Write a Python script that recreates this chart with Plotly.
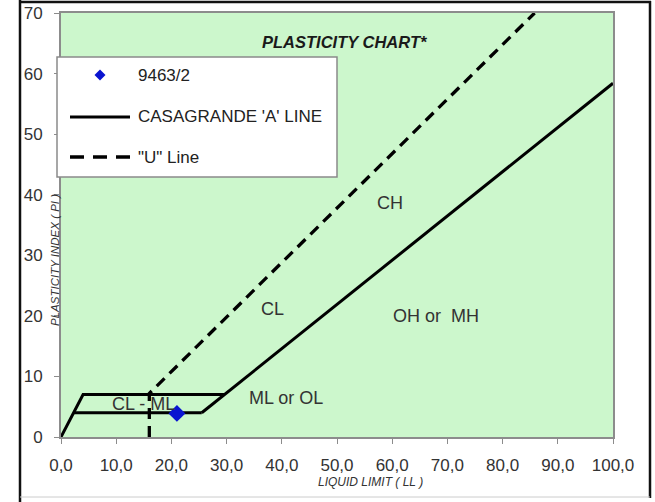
import plotly.graph_objects as go

# ---- data ----
x_ticks = [0, 10, 20, 30, 40, 50, 60, 70, 80, 90, 100]
x_tick_labels = ["0,0", "10,0", "20,0", "30,0", "40,0", "50,0", "60,0", "70,0", "80,0", "90,0", "100,0"]
y_ticks = [0, 10, 20, 30, 40, 50, 60, 70]
y_tick_labels = ["0", "10", "20", "30", "40", "50", "60", "70"]

sample_ll = [21.0]
sample_pi = [3.9]

clml_upper_ll = [0, 4.0, 29.6]
clml_upper_pi = [0, 7.0, 7.0]
clml_lower_ll = [2.3, 25.5]
clml_lower_pi = [4.0, 4.0]
a_line_ll = [25.5, 100]
a_line_pi = [4.0, 58.4]
u_line_ll = [16, 16, 85.8]
u_line_pi = [0, 7.2, 70]

zone_names = ["CH", "CL", "OH or\u00a0\u00a0MH", "ML or OL", "CL - ML"]
zone_ll = [59.6, 38.4, 67.9, 40.8, 14.9]
zone_pi = [38.6, 21.1, 20.0, 6.4, 5.4]

FONT = "Liberation Sans, Arial, sans-serif"
W, H = 655, 502
L, R, T, B = 61, 42, 13, 65
PW, PH = W - L - R, H - T - B


def px(xp):
    return (xp - L) / PW


def py(yp):
    return (H - B - yp) / PH


fig = go.Figure()
line_style = dict(color="black", width=3)
fig.add_trace(go.Scatter(x=clml_upper_ll, y=clml_upper_pi, mode="lines", line=line_style,
                         showlegend=False, cliponaxis=False))
fig.add_trace(go.Scatter(x=clml_lower_ll, y=clml_lower_pi, mode="lines", line=line_style,
                         showlegend=False))
fig.add_trace(go.Scatter(x=a_line_ll, y=a_line_pi, mode="lines", line=line_style,
                         name="CASAGRANDE 'A' LINE", showlegend=False))
fig.add_trace(go.Scatter(x=u_line_ll, y=u_line_pi, mode="lines",
                         line=dict(color="black", width=3.3, dash="11px,7px"),
                         name='"U" Line', showlegend=False))
fig.add_trace(go.Scatter(x=sample_ll, y=sample_pi, mode="markers",
                         marker=dict(symbol="diamond", size=13, color="#0a14d0"),
                         name="9463/2", showlegend=False))

annotations = []
for name, xv, yv in zip(zone_names, zone_ll, zone_pi):
    annotations.append(dict(x=xv, y=yv, xref="x", yref="y", text=name, showarrow=False,
                            xanchor="center", yanchor="middle",
                            font=dict(family=FONT, size=18, color="#333333")))

annotations.append(dict(x=px(345), y=py(42), xref="paper", yref="paper",
                        xanchor="center", yanchor="middle",
                        text="<b><i>PLASTICITY CHART*</i></b>", showarrow=False,
                        font=dict(family=FONT, size=16.5, color="#1a1a1a")))
annotations.append(dict(x=px(370), y=py(482), xref="paper", yref="paper",
                        xanchor="center", yanchor="middle",
                        text="<i>LIQUID LIMIT ( LL )</i>", showarrow=False,
                        font=dict(family=FONT, size=12, color="#333333")))
annotations.append(dict(x=px(55), y=py(260), xref="paper", yref="paper", textangle=-90,
                        xanchor="center", yanchor="middle",
                        text="<i>PLASTICITY INDEX ( PI )</i>", showarrow=False,
                        font=dict(family=FONT, size=11.5, color="#333333")))

# custom legend
legend_labels = ["9463/2", "CASAGRANDE 'A' LINE", '"U" Line']
legend_rows = [75, 117, 157]
for lab, yr in zip(legend_labels, legend_rows):
    annotations.append(dict(x=px(136), y=py(yr), xref="paper", yref="paper", text=lab,
                            showarrow=False, xanchor="left", yanchor="middle",
                            font=dict(family=FONT, size=17, color="#222222")))

shapes = [
    dict(type="rect", xref="paper", yref="paper", x0=px(57), x1=px(337), y0=py(177), y1=py(57),
         fillcolor="white", line=dict(color="#8a8a8a", width=1.5), layer="above"),
    dict(type="line", xref="paper", yref="paper", x0=px(70), x1=px(130), y0=py(117), y1=py(117),
         line=dict(color="black", width=3), layer="above"),
    dict(type="line", xref="paper", yref="paper", x0=px(70), x1=px(130), y0=py(157), y1=py(157),
         line=dict(color="black", width=3.3, dash="14px,9px"), layer="above"),
]
cx, cy, d = px(100), py(75), 5.5
shapes.append(dict(type="path", xref="paper", yref="paper",
                   path=f"M {cx},{cy + d / PH} L {cx + d / PW},{cy} L {cx},{cy - d / PH} L {cx - d / PW},{cy} Z",
                   fillcolor="#0a14d0", line=dict(width=0), layer="above"))
# outer frame
shapes += [
    dict(type="line", xref="paper", yref="paper", x0=px(20), x1=px(20), y0=py(0), y1=py(502),
         line=dict(color="#111111", width=2.5)),
    dict(type="line", xref="paper", yref="paper", x0=px(20), x1=px(651), y0=py(2), y1=py(2),
         line=dict(color="#111111", width=2.5)),
    dict(type="line", xref="paper", yref="paper", x0=px(650), x1=px(650), y0=py(1), y1=py(498),
         line=dict(color="#111111", width=2.5)),
    dict(type="line", xref="paper", yref="paper", x0=px(20), x1=px(650), y0=py(497), y1=py(497),
         line=dict(color="#cccccc", width=1)),
]

axis_common = dict(showline=True, mirror=True, linecolor="#8c8c8c", linewidth=2,
                   showgrid=False, zeroline=False, ticks="outside", ticklen=5,
                   tickcolor="#8c8c8c", tickwidth=1, automargin=False,
                   tickfont=dict(family=FONT, size=17, color="#333333"))
fig.update_xaxes(range=[0, 100], tickmode="array", tickvals=x_ticks, ticktext=x_tick_labels,
                 ticklabelstandoff=7, **axis_common)
fig.update_yaxes(range=[0, 70], tickmode="array", tickvals=y_ticks, ticktext=y_tick_labels,
                 ticklabelstandoff=8, **axis_common)

fig.update_layout(width=W, height=H, margin=dict(l=L, r=R, t=T, b=B, autoexpand=False),
                  plot_bgcolor="#ccf7cc", paper_bgcolor="white",
                  annotations=annotations, shapes=shapes, showlegend=False)
fig.write_html("out.html", config={"displayModeBar": False},
               post_script="document.body.style.margin='0';document.body.style.overflow='hidden';")
